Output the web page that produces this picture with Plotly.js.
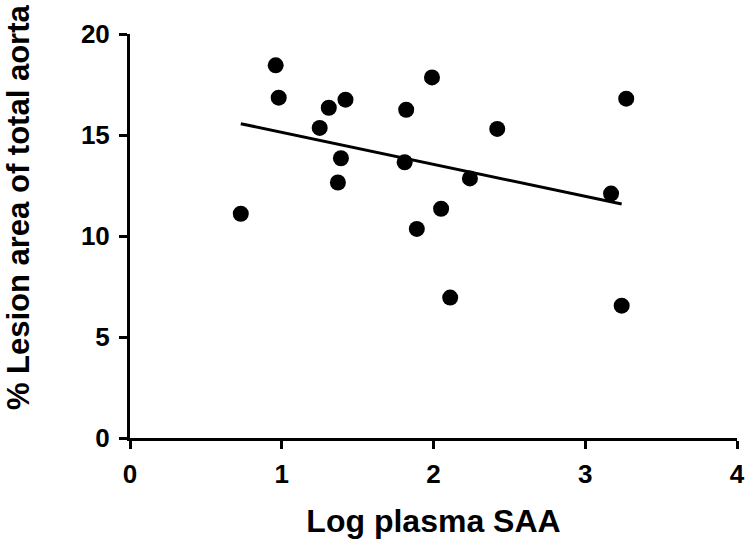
<!DOCTYPE html>
<html>
<head>
<meta charset="utf-8">
<script src="https://cdn.plot.ly/plotly-3.0.1.min.js"></script>
<style>
  html, body { margin: 0; padding: 0; background: #fff; }
  #chart { width: 750px; height: 549px; }
</style>
</head>
<body>
<div id="chart"></div>
<script>
// Lesion area vs log plasma SAA, with fitted line

const logSAA = [0.73, 0.96, 0.98, 1.25, 1.31, 1.37, 1.39, 1.42, 1.81, 1.82, 1.99,
                1.89, 2.05, 2.11, 2.24, 2.42, 3.17, 3.24, 3.27];
const lesion = [11.1, 18.45, 16.85, 15.35, 16.35, 12.65, 13.85, 16.75, 13.65, 16.25, 17.85,
                10.35, 11.35, 6.95, 12.85, 15.3, 12.1, 6.55, 16.8];

// regression line as drawn (endpoints)
const fitX = [0.73, 3.24];
const fitY = [15.56, 11.58];

const xTicks = [0, 1, 2, 3, 4];
const yTicks = [0, 5, 10, 15, 20];

const font = 'Liberation Sans, Arial, Helvetica, sans-serif';

const points = {
  x: logSAA,
  y: lesion,
  mode: 'markers',
  type: 'scatter',
  marker: {color: '#000', size: 16},
  cliponaxis: false,
  hoverinfo: 'x+y'
};

const fit = {
  x: fitX,
  y: fitY,
  mode: 'lines',
  type: 'scatter',
  line: {color: '#000', width: 3},
  hoverinfo: 'skip'
};

const axisCommon = {
  showline: true,
  linecolor: '#000',
  linewidth: 3,
  showgrid: false,
  zeroline: false,
  ticks: 'outside',
  ticklen: 8,
  tickwidth: 3,
  tickcolor: '#000',
  tickfont: {family: font, size: 26, color: '#000', weight: 'bold'},
  fixedrange: true
};

const layout = {
  width: 750,
  height: 549,
  margin: {l: 130, r: 13, t: 34, b: 111},
  paper_bgcolor: '#fff',
  plot_bgcolor: '#fff',
  showlegend: false,
  font: {family: font, color: '#000'},
  xaxis: Object.assign({}, axisCommon, {
    range: [0, 4],
    tickvals: xTicks,
    ticktext: xTicks.map(String),
    ticklabelstandoff: 3,
    title: {text: 'Log plasma SAA', font: {family: font, size: 32, color: '#000', weight: 'bold'}, standoff: 22}
  }),
  yaxis: Object.assign({}, axisCommon, {
    range: [0, 20],
    tickvals: yTicks,
    ticktext: yTicks.map(String),
    ticklabelstandoff: 4
  }),
  annotations: [{
    text: '% Lesion area of total aorta',
    xref: 'paper', yref: 'paper',
    x: -0.1845, y: 0.5715,
    xanchor: 'center', yanchor: 'middle',
    textangle: -90,
    showarrow: false,
    font: {family: font, size: 31, color: '#000', weight: 'bold'}
  }]
};

Plotly.newPlot('chart', [fit, points], layout, {displayModeBar: false, staticPlot: true});
</script>
</body>
</html>
